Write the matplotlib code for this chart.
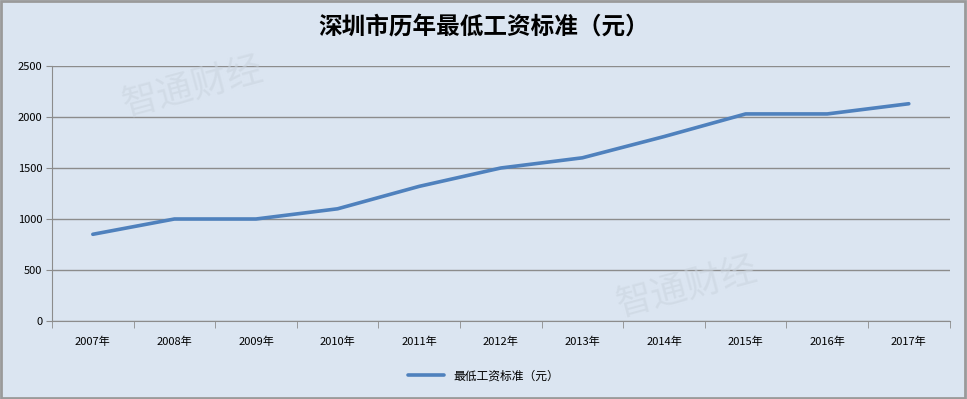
import numpy as np
import matplotlib.pyplot as plt
from matplotlib.patches import Rectangle

plt.rcParams['font.family'] = ['Noto Sans CJK SC', 'DejaVu Sans']

# data
years = ['2007年', '2008年', '2009年', '2010年', '2011年', '2012年',
         '2013年', '2014年', '2015年', '2016年', '2017年']
wage = [850, 1000, 1000, 1100, 1320, 1500, 1600, 1808, 2030, 2030, 2130]
series_name = '最低工资标准（元）'
title = '深圳市历年最低工资标准（元）'

bg = '#dbe5f1'
fig = plt.figure(figsize=(9.67, 3.99), dpi=100, facecolor=bg)
ax = fig.add_axes([0.0538, 0.1955, 0.9282, 0.6391], facecolor=bg)

x = np.arange(len(years))
ax.plot(x, wage, color='#4f81bd', lw=2.6, solid_capstyle='round', zorder=3)

# watermark
for wx, wy in [(0.20, 0.78), (0.71, 0.28)]:
    fig.text(wx, wy, '智通财经', fontsize=26, color='#cbd5e0', alpha=0.6,
             rotation=15, ha='center', va='center', zorder=0)

ax.set_xlim(-0.5, len(years) - 0.5)
ax.set_ylim(0, 2500)
ax.set_yticks(np.arange(0, 2501, 500))
ax.yaxis.grid(True, color='#8c8c8c', lw=1)
ax.set_axisbelow(True)

ax.set_xticks(x)
ax.set_xticklabels(years, fontsize=8)
ax.set_xticks(np.arange(-0.5, len(years), 1), minor=True)
ax.tick_params(axis='x', which='major', length=0, pad=11)
ax.tick_params(axis='x', which='minor', length=5, color='#8c8c8c', direction='out')
ax.tick_params(axis='y', length=4, color='#8c8c8c', labelsize=8, pad=3)

for s in ['top', 'right']:
    ax.spines[s].set_visible(False)
for s in ['left', 'bottom']:
    ax.spines[s].set_color('#8c8c8c')

fig.text(0.5, 0.93, title, fontsize=17, fontweight='bold', ha='center', va='center')

leg = fig.legend([ax.lines[0]], [series_name], loc='center', bbox_to_anchor=(0.5, 0.058),
                 frameon=False, fontsize=8.5, handlelength=3)

fig.patches.append(Rectangle((0.001, 0.002), 0.997, 0.995, transform=fig.transFigure,
                             fill=False, edgecolor='#9a9a9a', lw=2))

fig.savefig('out.png', dpi=100, facecolor=bg)
